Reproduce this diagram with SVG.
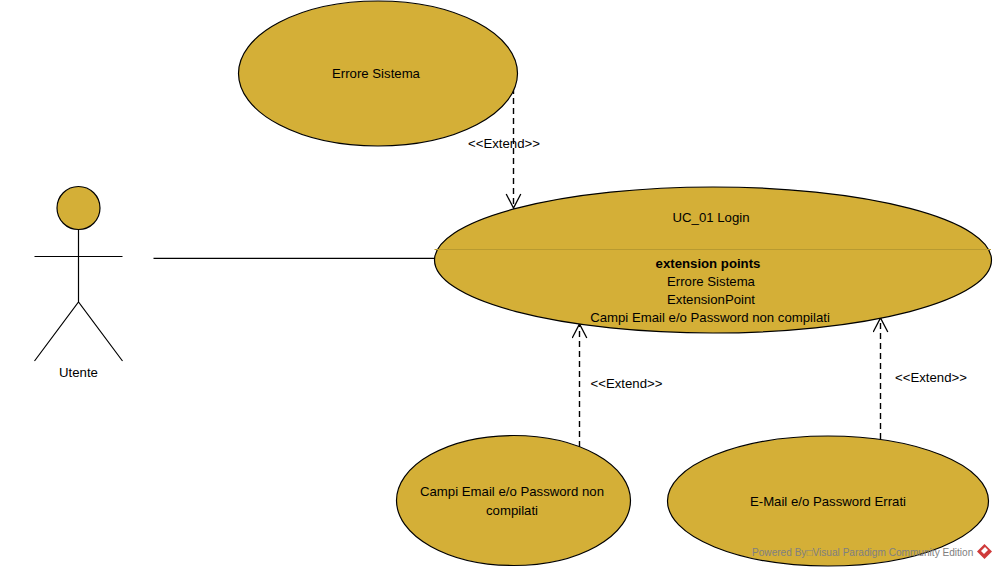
<svg xmlns="http://www.w3.org/2000/svg" width="996" height="569" viewBox="0 0 996 569">
<style>
.n{fill:#d4af37;stroke:#000;stroke-width:1.2}
.t{font-family:"Liberation Sans",Arial,sans-serif;font-size:13.2px;fill:#000;text-anchor:middle}
.l{fill:none;stroke:#000;stroke-width:1.2}
.d{stroke-width:1.4;stroke-dasharray:6 4}
</style>
<defs><marker id="a" markerWidth="18" markerHeight="18" refX="15" refY="8" orient="auto" markerUnits="userSpaceOnUse"><path d="M1 .7L15 8L1 15.300" fill="none" stroke="#000" stroke-width="1.3"/></marker></defs>
<rect width="996" height="569" fill="#fff"/>
<g id="connectors">
<path class="l" d="M153.500 258.300H435"/>
<path class="l d" d="M513.500 88V208" marker-end="url(#a)"/>
<path class="l d" d="M579.500 447V324" marker-end="url(#a)"/>
<path class="l d" d="M880.500 439V318" marker-end="url(#a)"/>
<text class="t" x="504" y="148">&lt;&lt;Extend&gt;&gt;</text>
<text class="t" x="626.500" y="388">&lt;&lt;Extend&gt;&gt;</text>
<text class="t" x="931" y="382">&lt;&lt;Extend&gt;&gt;</text>
</g>
<g id="actor">
<circle class="n" cx="78.500" cy="208" r="21.500"/>
<path class="l" d="M78.500 229.500V302M34.500 256.500H122.500M34.500 361L78.500 302L122.500 361"/>
<text class="t" x="78.500" y="377">Utente</text>
</g>
<g id="erroreSistema">
<ellipse class="n" cx="378" cy="73.500" rx="139.500" ry="72.500"/>
<text class="t" x="376" y="78">Errore Sistema</text>
</g>
<g id="login">
<ellipse class="n" cx="713" cy="260" rx="278.500" ry="73"/>
<path d="M434.500 249.500H991" stroke="#b89a30" stroke-width="1"/>
<text class="t" x="711" y="222">UC_01 Login</text>
<text class="t" x="708" y="268" font-weight="bold">extension points</text>
<text class="t" x="711" y="286">Errore Sistema</text>
<text class="t" x="711" y="304">ExtensionPoint</text>
<text class="t" x="710" y="322">Campi Email e/o Password non compilati</text>
</g>
<g id="campi">
<ellipse class="n" cx="513.500" cy="500.500" rx="117" ry="65"/>
<text class="t" x="512" y="496">Campi Email e/o Password non</text>
<text class="t" x="512" y="515">compilati</text>
</g>
<g id="errati">
<ellipse class="n" cx="828" cy="501" rx="160.500" ry="65"/>
<text class="t" x="828" y="506">E-Mail e/o Password Errati</text>
</g>
<g id="watermark">
<text x="752" y="556" font-family="'Liberation Sans',Arial,sans-serif" font-size="10.100" fill="#808080">Powered By□Visual Paradigm Community Edition</text>
<path d="M984.500 544l7.500 7.500l-7.500 7.500l-7.500-7.500z" fill="#cf3a3a"/>
<path d="M981 551l4-4l3 3l-4 4z" fill="#fff"/>
</g>
</svg>
